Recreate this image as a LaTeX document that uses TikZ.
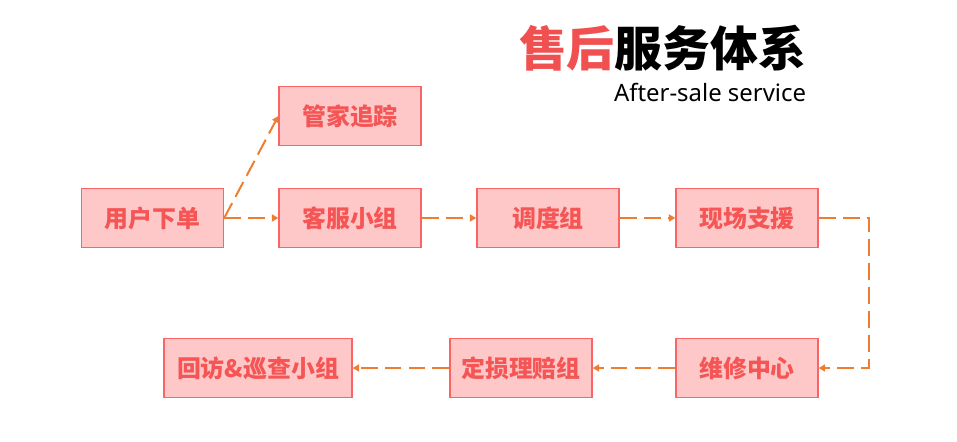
\documentclass[tikz,border=0pt]{standalone}
\usepackage{fontspec}
\setmainfont{Noto Sans CJK SC}
\newfontfamily\latinfont{Noto Sans}
\usetikzlibrary{arrows.meta}
\definecolor{boxfill}{RGB}{255,200,200}
\definecolor{boxline}{RGB}{250,100,100}
\definecolor{boxtext}{RGB}{245,85,85}
\definecolor{flowline}{RGB}{237,125,49}
\definecolor{titlered}{RGB}{240,80,80}

\begin{document}
\begin{tikzpicture}[x=0.025cm, y=-0.025cm,
    stepbox/.style={draw=boxline, fill=boxfill, line width=1pt,
      minimum width=3.55cm, minimum height=1.475cm, inner sep=0pt,
      text=boxtext, font=\fontsize{17}{20}\selectfont\bfseries},
    flow/.style={draw=flowline, line width=1.4pt, dash pattern=on 12pt off 5pt,
      -{Triangle[length=4.5pt, width=5pt]}}]
  \useasboundingbox (0,0) rectangle (957,441);

  % Title
  \node[anchor=east, font=\fontsize{34}{38}\selectfont\bfseries] (title) at (811,48)
    {\textcolor{titlered}{售后}服务体系};
  \node[anchor=east, font=\latinfont\fontsize{17}{20}\selectfont] (subtitle) at (811,92)
    {After-sale service};

  % Upper row
  \node[stepbox] (order)   at (152.5,218) {用户下单};
  \node[stepbox] (butler)  at (350,116)   {管家追踪};
  \node[stepbox] (service) at (350,218)   {客服小组};
  \node[stepbox] (dispatch) at (548,218)  {调度组};
  \node[stepbox] (support) at (747,218)   {现场支援};

  % Lower row
  \node[stepbox] (repair) at (747,368) {维修中心};
  \node[stepbox] (claim)  at (521,368) {定损理赔组};
  \node[stepbox, minimum width=4.7cm] (visit) at (258,368) {回访\&巡查小组};

  % Connectors
  \draw[flow] (order.east) -- (butler.west);
  \draw[flow] (order.east) -- (service.west);
  \draw[flow] (service) -- (dispatch);
  \draw[flow] (dispatch) -- (support);
  \coordinate (turn) at (869,0);
  \draw[flow] (support.east) -- (support.east -| turn) |- (repair.east);
  \draw[flow] (repair) -- (claim);
  \draw[flow] (claim) -- (visit);
\end{tikzpicture}
\end{document}
